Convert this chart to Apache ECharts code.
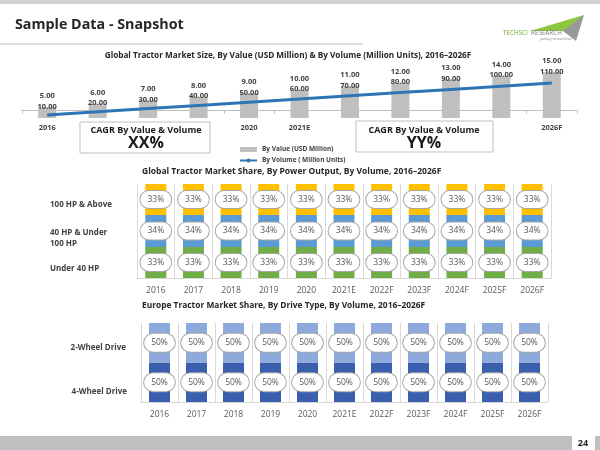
<!DOCTYPE html>
<html>
<head>
<meta charset="utf-8">
<script src="https://cdn.jsdelivr.net/npm/echarts@6/dist/echarts.min.js"></script>
<style>
html,body{margin:0;padding:0;background:#fff;}
#c{width:600px;height:450px;}
</style>
</head>
<body>
<div id="c"></div>
<script>
// ---- data ----
var years = ['2016','2017','2018','2019','2020','2021E','2022F','2023F','2024F','2025F','2026F'];
var valueUSD = [10,20,30,40,50,60,70,80,90,100,110];
var volumeUnits = [5,6,7,8,9,10,11,12,13,14,15];
var topLabelShown = [0,4,5,10];
var powerNames = ['Under 40 HP','40 HP & Under 100 HP','100 HP & Above'];
var powerUnder40 = [33,33,33,33,33,33,33,33,33,33,33];
var power40to100 = [34,34,34,34,34,34,34,34,34,34,34];
var power100plus = [33,33,33,33,33,33,33,33,33,33,33];
var driveNames = ['4-Wheel Drive','2-Wheel Drive'];
var drive4W = [50,50,50,50,50,50,50,50,50,50,50];
var drive2W = [50,50,50,50,50,50,50,50,50,50,50];
var cagrValue = 'XX%';
var cagrVolume = 'YY%';

var FONT = '"Open Sans", sans-serif';
var VALUE_MIN = -21, VALUE_MAX = 145;
var chart = echarts.init(document.getElementById('c'), null, {renderer:'canvas'});

function pillLabel(padV){
  return {
    show:true, position:'inside', formatter:'{c}%',
    color:'#595959', fontFamily:FONT, fontSize:8.5, lineHeight:10,
    backgroundColor:'#ffffff', borderColor:'#A6A6A6', borderWidth:1,
    borderRadius:9, padding:[padV,7,padV,7]
  };
}
function shareAxis(grid, margin){
  return {
    type:'category', gridIndex:grid, data:years,
    axisLine:{show:true, lineStyle:{color:'#D9D9D9'}},
    axisTick:{show:false},
    splitLine:{show:true, lineStyle:{color:'#D9D9D9'}},
    axisLabel:{color:'#595959', fontFamily:FONT, fontSize:8.5, margin:margin, interval:0}
  };
}
var numFont = 'bold 7.5px ' + FONT;

function renderValueBar(params, api){
  var idx = api.value(0), v = api.value(1);
  var top = api.coord([idx, v]);
  var base = api.coord([idx, VALUE_MIN]);
  var w = 18;
  return {type:'group', children:[
    {type:'rect', shape:{x:top[0]-w/2, y:top[1], width:w, height:base[1]-top[1]}, style:{fill:'#BFBFBF'}},
    {type:'text', x:top[0], y:top[1]-0.5, z2:10, style:{text:v.toFixed(2), font:numFont, fill:'#404040', align:'center', verticalAlign:'middle'}},
    {type:'text', x:top[0], y:top[1]-11, z2:10, style:{text:volumeUnits[params.dataIndex].toFixed(2), font:numFont, fill:'#404040', align:'center', verticalAlign:'middle'}}
  ]};
}

var option = {
  animation:false,
  grid:[
    {left:22, right:23, top:60, height:58},
    {left:137, right:49, top:184, height:94},
    {left:141, right:52, top:323, height:79}
  ],
  legend:{
    orient:'vertical', left:234, top:141, itemWidth:17, itemHeight:5, itemGap:4,
    textStyle:{fontFamily:FONT, fontWeight:'bold', fontSize:6.5, color:'#404040'},
    data:[{name:'By Value (USD Million)', icon:'rect', itemStyle:{color:'#BFBFBF'}}, {name:'By Volume ( Million Units)'}]
  },
  xAxis:[
    {type:'category', gridIndex:0, data:years,
     axisLine:{show:true, lineStyle:{color:'#BFBFBF'}},
     axisTick:{show:true, length:3, lineStyle:{color:'#BFBFBF'}},
     axisLabel:{color:'#404040', fontFamily:FONT, fontWeight:'bold', fontSize:7.5, margin:6,
       interval:function(i){ return topLabelShown.indexOf(i) >= 0; }}},
    shareAxis(1, 8),
    shareAxis(2, 8)
  ],
  yAxis:[
    {type:'value', gridIndex:0, min:VALUE_MIN, max:VALUE_MAX, show:false},
    {type:'value', gridIndex:0, min:4.06, max:22.2, show:false},
    {type:'value', gridIndex:1, min:0, max:100, show:false},
    {type:'value', gridIndex:2, min:0, max:100, show:false}
  ],
  series:[
    {name:'By Value (USD Million)', type:'custom', xAxisIndex:0, yAxisIndex:0,
     data:valueUSD.map(function(v, i){ return [i, v]; }),
     encode:{x:0, y:1}, itemStyle:{color:'#BFBFBF'}, renderItem:renderValueBar, z:2},
    {name:'By Volume ( Million Units)', type:'line', xAxisIndex:0, yAxisIndex:1, data:volumeUnits,
     symbol:'circle', symbolSize:4, showSymbol:false, z:5,
     lineStyle:{color:'#2E75B6', width:3}, itemStyle:{color:'#2E75B6'}},
    {name:powerNames[0], type:'bar', stack:'p', xAxisIndex:1, yAxisIndex:2, data:powerUnder40,
     barWidth:21, itemStyle:{color:'#70AD47'}, label:pillLabel(3.5)},
    {name:powerNames[1], type:'bar', stack:'p', xAxisIndex:1, yAxisIndex:2, data:power40to100,
     barWidth:21, itemStyle:{color:'#5B9BD5'}, label:pillLabel(3.5)},
    {name:powerNames[2], type:'bar', stack:'p', xAxisIndex:1, yAxisIndex:2, data:power100plus,
     barWidth:21, itemStyle:{color:'#FFC000'}, label:pillLabel(3.5)},
    {name:driveNames[0], type:'bar', stack:'d', xAxisIndex:2, yAxisIndex:3, data:drive4W,
     barWidth:21, itemStyle:{color:'#3A5FAE'}, label:pillLabel(4)},
    {name:driveNames[1], type:'bar', stack:'d', xAxisIndex:2, yAxisIndex:3, data:drive2W,
     barWidth:21, itemStyle:{color:'#8EA9DB'}, label:pillLabel(4)}
  ],
  graphic:[
    {type:'rect', shape:{x:0,y:0,width:600,height:4}, style:{fill:'#D0D0D0'}, z:100},
    {type:'text', left:15, top:18, style:{text:'Sample Data - Snapshot', font:'bold 14.3px ' + FONT, fill:'#262626'}, z:100},
    {type:'line', shape:{x1:0,y1:44,x2:363,y2:44}, style:{stroke:'#BFBFBF', lineWidth:1}, z:100},
    // logo
    {type:'polygon', shape:{points:[[530,31],[584,15],[571,31]]}, style:{fill:'#8DC63F'}, z:100},
    {type:'polygon', shape:{points:[[563,31],[584,15],[576,41]]}, style:{fill:'#9A9A9A'}, z:100},
    {type:'text', x:503, y:30, style:{text:'TECHSCI', font:'6.3px ' + FONT, fill:'#6BAA2C'}, z:100},
    {type:'text', x:531, y:30, style:{text:'RESEARCH', font:'6.3px ' + FONT, fill:'#7F7F7F'}, z:100},
    {type:'text', x:540, y:37, style:{text:'journey to excellence', font:'italic 3.5px ' + FONT, fill:'#7F7F7F'}, z:100},
    // chart titles
    {type:'text', x:288, y:56, style:{text:'Global Tractor Market Size, By Value (USD Million) & By Volume (Million Units), 2016\u20132026F', font:'bold 8.2px ' + FONT, fill:'#262626', textAlign:'center', textVerticalAlign:'middle'}, z:100},
    {type:'text', x:142, y:172, style:{text:'Global Tractor Market Share, By Power Output, By Volume, 2016\u20132026F', font:'bold 8.5px ' + FONT, fill:'#262626', textVerticalAlign:'middle'}, z:100},
    {type:'text', x:142, y:306, style:{text:'Europe Tractor Market Share, By Drive Type, By Volume, 2016\u20132026F', font:'bold 8.4px ' + FONT, fill:'#262626', textVerticalAlign:'middle'}, z:100},
    // CAGR boxes
    {type:'rect', shape:{x:80,y:122,width:130,height:31}, style:{fill:'#fff', stroke:'#BFBFBF', lineWidth:1}, z:100},
    {type:'text', x:146, y:130, style:{text:'CAGR By Value & Volume', font:'bold 9px ' + FONT, fill:'#1a1a1a', textAlign:'center', textVerticalAlign:'middle'}, z:101},
    {type:'text', x:146, y:143, style:{text:cagrValue, font:'bold 16px ' + FONT, fill:'#1a1a1a', textAlign:'center', textVerticalAlign:'middle'}, z:101},
    {type:'rect', shape:{x:356,y:121,width:137,height:31}, style:{fill:'#fff', stroke:'#BFBFBF', lineWidth:1}, z:100},
    {type:'text', x:424, y:130, style:{text:'CAGR By Value & Volume', font:'bold 9px ' + FONT, fill:'#1a1a1a', textAlign:'center', textVerticalAlign:'middle'}, z:101},
    {type:'text', x:424, y:143, style:{text:cagrVolume, font:'bold 16px ' + FONT, fill:'#1a1a1a', textAlign:'center', textVerticalAlign:'middle'}, z:101},
    // row labels
    {type:'text', x:50, y:205, style:{text:powerNames[2], font:'bold 8px ' + FONT, fill:'#404040', textVerticalAlign:'middle'}, z:100},
    {type:'text', x:50, y:238, style:{text:powerNames[1].replace('Under ', 'Under\n'), font:'bold 8px ' + FONT, lineHeight:11, fill:'#404040', textVerticalAlign:'middle'}, z:100},
    {type:'text', x:50, y:269, style:{text:powerNames[0], font:'bold 8px ' + FONT, fill:'#404040', textVerticalAlign:'middle'}, z:100},
    {type:'text', x:126, y:348, style:{text:driveNames[1], font:'bold 8px ' + FONT, fill:'#404040', textAlign:'right', textVerticalAlign:'middle'}, z:100},
    {type:'text', x:127, y:392, style:{text:driveNames[0], font:'bold 8px ' + FONT, fill:'#404040', textAlign:'right', textVerticalAlign:'middle'}, z:100},
    // footer
    {type:'rect', shape:{x:0,y:436,width:572,height:14}, style:{fill:'#BFBFBF'}, z:100},
    {type:'rect', shape:{x:595,y:436,width:5,height:14}, style:{fill:'#BFBFBF'}, z:100},
    {type:'text', x:583, y:443, style:{text:'24', font:'bold 9px ' + FONT, fill:'#262626', textAlign:'center', textVerticalAlign:'middle'}, z:100}
  ]
};
chart.setOption(option);
</script>
</body>
</html>
